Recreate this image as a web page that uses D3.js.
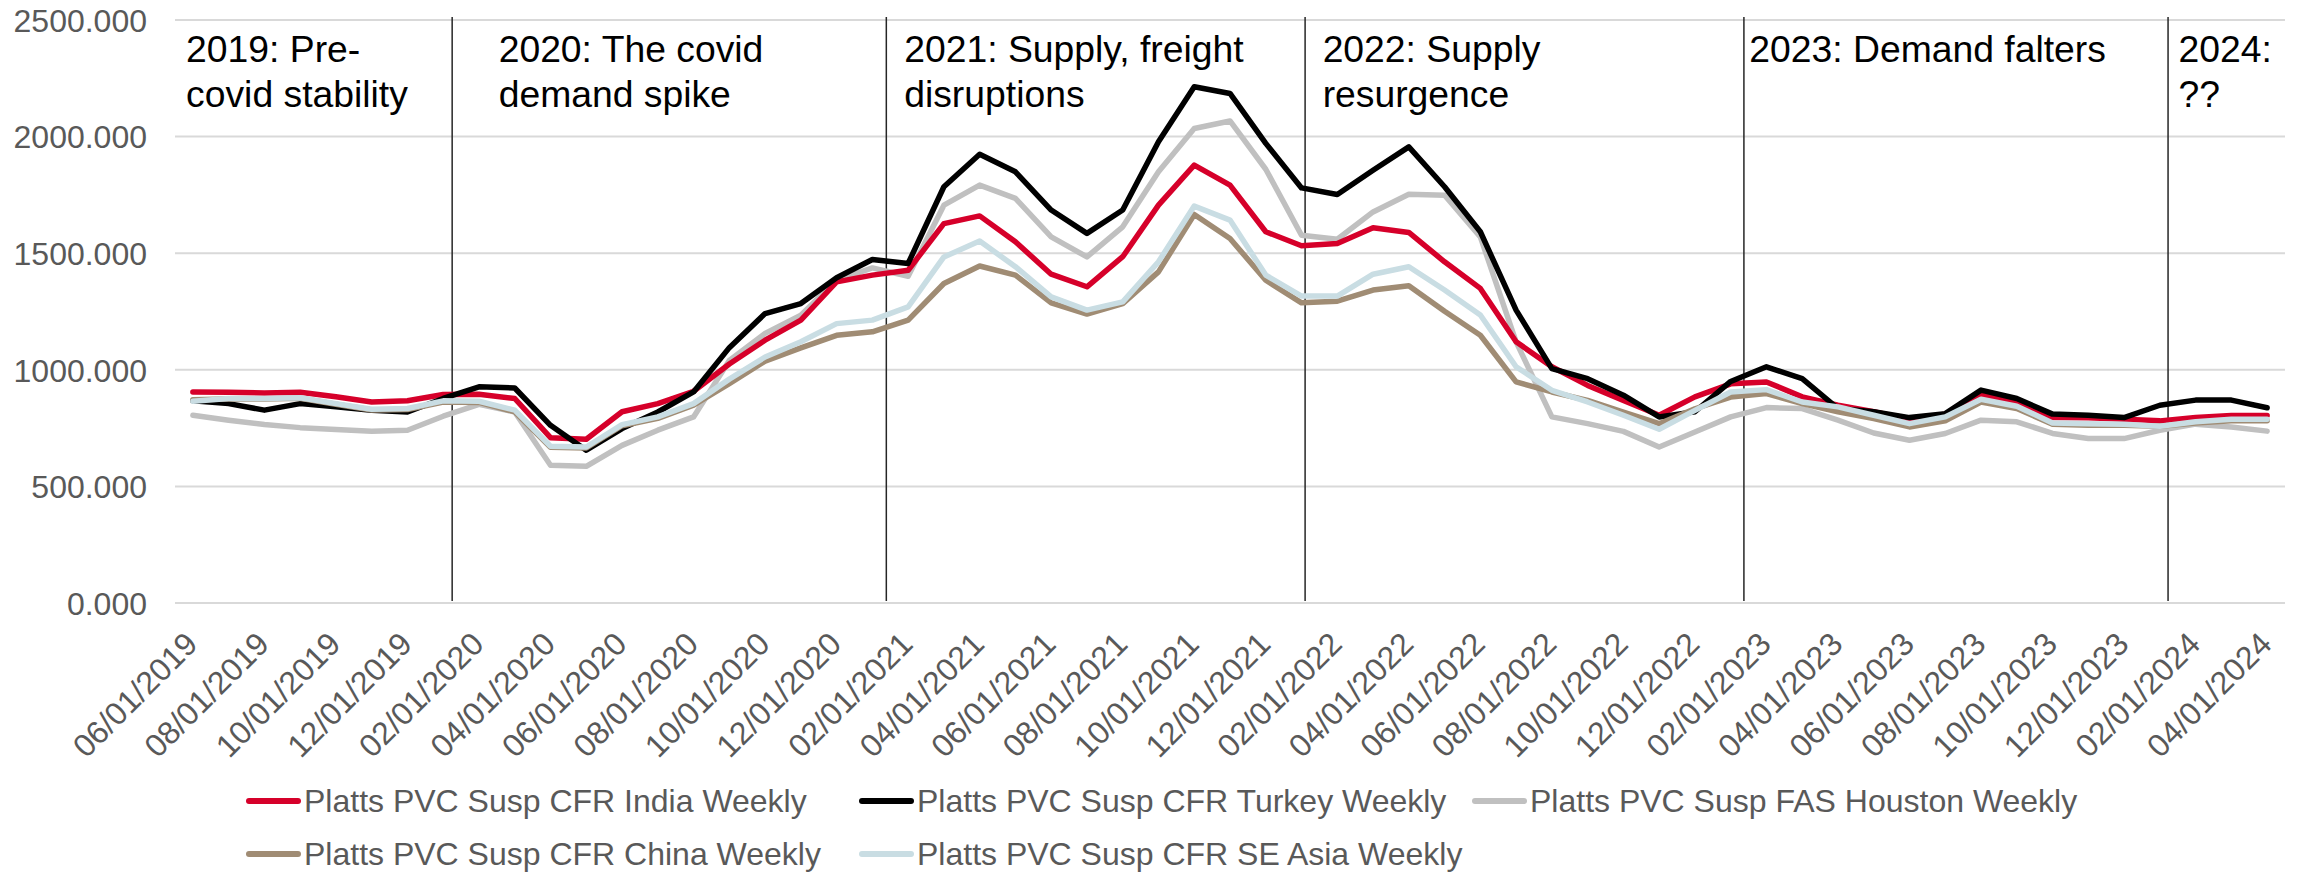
<!DOCTYPE html>
<html>
<head>
<meta charset="utf-8">
<script src="https://cdn.jsdelivr.net/npm/d3@7"></script>
<style>
  body { margin: 0; background: #fff; }
  text { font-family: "Liberation Sans", Arial, sans-serif; }
</style>
</head>
<body>
<div id="my_dataviz"></div>
<script>
// x categories: one point per month
var months = [
  "06/01/2019", "07/01/2019", "08/01/2019", "09/01/2019", "10/01/2019", "11/01/2019", "12/01/2019",
  "01/01/2020", "02/01/2020", "03/01/2020", "04/01/2020", "05/01/2020", "06/01/2020",
  "07/01/2020", "08/01/2020", "09/01/2020", "10/01/2020", "11/01/2020", "12/01/2020",
  "01/01/2021", "02/01/2021", "03/01/2021", "04/01/2021", "05/01/2021", "06/01/2021",
  "07/01/2021", "08/01/2021", "09/01/2021", "10/01/2021", "11/01/2021", "12/01/2021",
  "01/01/2022", "02/01/2022", "03/01/2022", "04/01/2022", "05/01/2022", "06/01/2022",
  "07/01/2022", "08/01/2022", "09/01/2022", "10/01/2022", "11/01/2022", "12/01/2022",
  "01/01/2023", "02/01/2023", "03/01/2023", "04/01/2023", "05/01/2023", "06/01/2023",
  "07/01/2023", "08/01/2023", "09/01/2023", "10/01/2023", "11/01/2023", "12/01/2023",
  "01/01/2024", "02/01/2024", "03/01/2024", "04/01/2024"
];

// series values
var india = [905, 904, 901, 904, 884, 862, 867, 894, 895, 877, 709, 702, 820, 855, 908,
  1025, 1127, 1213, 1377, 1406, 1427, 1627, 1660, 1549, 1410, 1356, 1485, 1706, 1878, 1792,
  1592, 1532, 1542, 1609, 1589, 1463, 1349, 1120, 1013, 933, 869, 805, 884, 940,
  948, 884, 848, 820, 787, 810, 891, 862, 795, 794, 788, 781, 795, 804, 804];

var turkey = [867, 855, 827, 855, 841, 827, 819, 877, 927, 922, 762, 655, 748, 819, 905,
  1095, 1241, 1284, 1395, 1473, 1456, 1785, 1924, 1849, 1685, 1585, 1685, 1978, 2214, 2185,
  1971, 1780, 1752, 1856, 1956, 1785, 1592, 1256, 1005, 962, 891, 798, 820, 950,
  1013, 962, 834, 820, 795, 812, 913, 877, 810, 805, 795, 848, 870, 870, 837];

var houston = [805, 784, 765, 752, 744, 737, 741, 801, 852, 819, 591, 586, 676, 741, 798,
  1040, 1156, 1234, 1384, 1437, 1401, 1706, 1792, 1735, 1570, 1484, 1613, 1849, 2035, 2067,
  1860, 1577, 1560, 1677, 1753, 1749, 1570, 1120, 798, 769, 736, 669, 733, 798,
  838, 834, 784, 729, 698, 727, 784, 777, 727, 705, 705, 741, 767, 755, 737];

var china = [872, 875, 875, 878, 852, 828, 830, 862, 860, 820, 668, 665, 760, 792, 848,
  941, 1037, 1094, 1148, 1163, 1213, 1370, 1445, 1406, 1287, 1239, 1284, 1420, 1666, 1563,
  1384, 1287, 1294, 1342, 1360, 1251, 1148, 948, 905, 869, 819, 769, 833, 883,
  898, 855, 820, 791, 755, 781, 862, 834, 767, 762, 762, 758, 772, 781, 781];

var seAsia = [865, 877, 877, 880, 855, 831, 834, 867, 865, 827, 672, 669, 765, 798, 855,
  960, 1055, 1120, 1198, 1213, 1270, 1484, 1552, 1442, 1313, 1256, 1291, 1463, 1702, 1642,
  1406, 1316, 1316, 1410, 1442, 1342, 1235, 1013, 912, 862, 805, 745, 826, 905,
  915, 862, 841, 805, 769, 798, 874, 844, 772, 769, 767, 758, 777, 788, 788];

var yTicks = [0, 500, 1000, 1500, 2000, 2500];

// period dividers and notes (positions in month index units)
var dividers = [7.25, 19.39, 31.1, 43.37, 55.23];
var notes = [
  { at: -0.19, lines: ["2019: Pre-", "covid stability"] },
  { at: 8.55, lines: ["2020: The covid", "demand spike"] },
  { at: 19.89, lines: ["2021: Supply, freight", "disruptions"] },
  { at: 31.59, lines: ["2022: Supply", "resurgence"] },
  { at: 43.52, lines: ["2023: Demand falters"] },
  { at: 55.52, lines: ["2024:", "??"] }
];

var series = [
  { name: "Platts PVC Susp FAS Houston Weekly", values: houston, color: "#c0c0c0" },
  { name: "Platts PVC Susp CFR India Weekly", values: india, color: "#d6002a" },
  { name: "Platts PVC Susp CFR Turkey Weekly", values: turkey, color: "#000000" },
  { name: "Platts PVC Susp CFR China Weekly", values: china, color: "#a08c74" },
  { name: "Platts PVC Susp CFR SE Asia Weekly", values: seAsia, color: "#c9dde3" }
];
var legendOrder = [
  "Platts PVC Susp CFR India Weekly", "Platts PVC Susp CFR Turkey Weekly",
  "Platts PVC Susp FAS Houston Weekly", "Platts PVC Susp CFR China Weekly",
  "Platts PVC Susp CFR SE Asia Weekly"
];

// set the dimensions and margins of the graph
var margin = { top: 20, right: 12, bottom: 269, left: 175 },
    width = 2297 - margin.left - margin.right,
    height = 872 - margin.top - margin.bottom;

var svg = d3.select("#my_dataviz")
    .append("svg")
    .attr("width", 2297)
    .attr("height", 872)
    .append("g")
    .attr("transform", "translate(" + margin.left + "," + margin.top + ")");

var x = d3.scaleLinear()
    .domain([-0.5, months.length - 0.5])
    .range([0, width]);

var y = d3.scaleLinear()
    .domain([0, 2500])
    .range([height, 0]);

// gridlines
svg.append("g")
    .selectAll("line")
    .data(yTicks)
    .enter()
    .append("line")
    .attr("x1", 0)
    .attr("x2", width)
    .attr("y1", function (d) { return y(d); })
    .attr("y2", function (d) { return y(d); })
    .attr("stroke", "#d9d9d9")
    .attr("stroke-width", 2);

// Y axis
var yAxis = svg.append("g")
    .call(d3.axisLeft(y).tickValues(yTicks).tickSize(0).tickPadding(28)
        .tickFormat(d3.format(".3f")));
yAxis.select(".domain").remove();
yAxis.selectAll("text")
    .style("font-size", "32px")
    .style("fill", "#595959")
    .attr("dy", "0.35em");

// X axis labels, every second month
var xAxis = svg.append("g")
    .attr("transform", "translate(0," + height + ")")
    .call(d3.axisBottom(x)
        .tickValues(d3.range(0, months.length, 2))
        .tickSize(0)
        .tickFormat(function (i) { return months[i]; }));
xAxis.select(".domain").remove();
xAxis.selectAll("text")
    .style("font-size", "32px")
    .style("fill", "#595959")
    .attr("text-anchor", "end")
    .attr("dy", 0)
    .attr("y", 0)
    .attr("transform", "translate(6,43) rotate(-45)");

// period dividers
svg.append("g")
    .selectAll("line")
    .data(dividers)
    .enter()
    .append("line")
    .attr("x1", function (d) { return x(d); })
    .attr("x2", function (d) { return x(d); })
    .attr("y1", y(2500) - 3)
    .attr("y2", y(0) - 2)
    .attr("stroke", "#262626")
    .attr("stroke-width", 1.5);

// series lines
var line = d3.line()
    .x(function (d, i) { return x(i); })
    .y(function (d) { return y(d); });

svg.append("g")
    .selectAll("path")
    .data(series)
    .enter()
    .append("path")
    .attr("d", function (d) { return line(d.values); })
    .attr("fill", "none")
    .attr("stroke", function (d) { return d.color; })
    .attr("stroke-width", 5.5)
    .attr("stroke-linejoin", "round")
    .attr("stroke-linecap", "round");

// notes
var note = svg.append("g")
    .selectAll("text")
    .data(notes)
    .enter()
    .append("text")
    .attr("x", function (d) { return x(d.at); })
    .attr("y", 42)
    .style("font-size", "37.3px")
    .style("fill", "#000");
note.selectAll("tspan")
    .data(function (d) { return d.lines.map(function (t) { return { t: t, at: d.at }; }); })
    .enter()
    .append("tspan")
    .attr("x", function (d) { return x(d.at); })
    .attr("dy", function (d, i) { return i == 0 ? 0 : 45; })
    .text(function (d) { return d.t; });

// legend
var legend = d3.select("svg").append("g");
var legendItems = legend.selectAll("g")
    .data(legendOrder)
    .enter()
    .append("g")
    .attr("transform", function (d, i) {
        return "translate(" + (246 + (i % 3) * 613) + "," + (801 + Math.floor(i / 3) * 53) + ")";
    });
legendItems.append("line")
    .attr("x1", 3)
    .attr("x2", 52)
    .attr("stroke", function (d) { return series.find(function (s) { return s.name == d; }).color; })
    .attr("stroke-width", 6)
    .attr("stroke-linecap", "round");
legendItems.append("text")
    .attr("x", 58)
    .attr("dy", "0.35em")
    .style("font-size", "32px")
    .style("fill", "#595959")
    .text(function (d) { return d; });
</script>
</body>
</html>
